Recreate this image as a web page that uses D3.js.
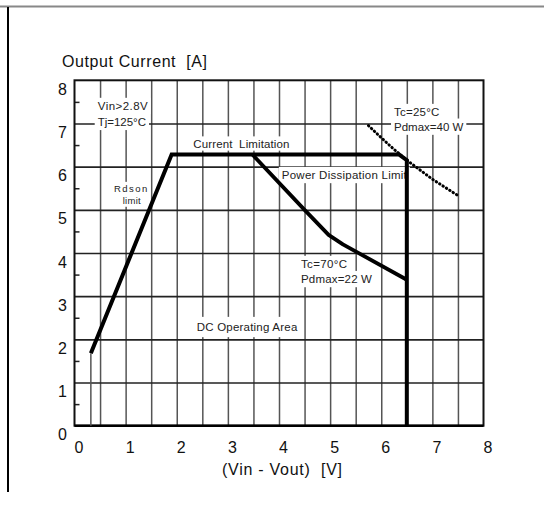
<!DOCTYPE html>
<html><head><meta charset="utf-8">
<script src="https://cdn.jsdelivr.net/npm/d3@7/dist/d3.min.js"></script>
<style>
body{margin:0;background:#fff;}
svg{display:block;font-family:"Liberation Sans",Arial,sans-serif;}
text{white-space:pre;}
</style></head><body>
<svg id="c" width="544" height="508"></svg>
<script>
// ---- data ----
const xTicks = [0,1,2,3,4,5,6,7,8];
const yTicks = [0,1,2,3,4,5,6,7,8];
const xGrid = [0.5,1,1.5,2,2.5,3,3.5,4,4.5,5,5.5,6,6.5,7,7.5];
const yGrid = [1,2,3,4,5,6,7];
const yMinor = [0.5,1.5,2.5,3.5,4.5,5.5,6.5,7.5];
// DC operating area boundary (Rdson limit, current limitation, Vin-Vout max)
const boundaryV = [0.32,1.9,6.35,6.5,6.5];
const boundaryI = [1.68,6.28,6.28,6.15,0];
// Tc=70°C, Pdmax=22 W power dissipation limit
const pd22V = [3.48,4.5,4.97,5.25,6.5];
const pd22I = [6.28,5.0,4.42,4.2,3.38];
// Tc=25°C, Pdmax=40 W (dotted)
const pd40V = [5.75,6.0,6.25,6.5,6.75,7.0,7.25,7.5];
const pd40I = [6.95,6.67,6.4,6.15,5.93,5.71,5.52,5.33];
// thin foot line under Rdson start
const footV = [0.32,0.32];
const footI = [1.68,0];
// annotations: text, anchor (V, A)
const annText = ["Vin>2.8V","Tj=125°C","Rdson","limit","Current  Limitation","Power Dissipation Limit","Tc=25°C","Pdmax=40 W","Tc=70°C","Pdmax=22 W","DC Operating Area"];
const annV = [0.454,0.454,0.773,0.943,2.325,4.055,6.25,6.25,4.43,4.43,2.39];
const annI = [7.31,6.94,5.42,5.14,6.44,5.71,7.17,6.83,3.65,3.30,2.19];
const annW = [50,48.3,33.3,18,96,125,45.3,69.3,46,71,100.6];
const annFs = [11.5,11.5,9.5,9.5,11.5,11.5,11.5,11.5,11.5,11.5,11.5];
const annPadY = [4,4,3,3,3,4,4,4,4,4,6];

const svg = d3.select("#c");
const L=74.5,R=483.5,T=80.3,B=425.7;
const x = d3.scaleLinear().domain([0,8]).range([L,R]);
const y = d3.scaleLinear().domain([0,8]).range([B,T]);

// page border
svg.append("line").attr("x1",0).attr("x2",544).attr("y1",6.5).attr("y2",6.5).attr("stroke","#888").attr("stroke-width",2);
svg.append("line").attr("x1",8).attr("x2",8).attr("y1",7).attr("y2",492).attr("stroke","#000").attr("stroke-width",2);

// vertical gridlines
const gx = svg.append("g").attr("transform",`translate(0,${B})`)
  .call(d3.axisBottom(x).tickValues(xGrid).tickSize(-(B-T)).tickFormat(""));
gx.select(".domain").remove();
gx.selectAll("line").attr("stroke","#555").attr("stroke-width",1.5);

// horizontal gridlines
const gy = svg.append("g").attr("transform",`translate(${L},0)`)
  .call(d3.axisRight(y).tickValues(yGrid).tickSize(R-L).tickFormat(""));
gy.select(".domain").remove();
gy.selectAll("line").attr("stroke","#222").attr("stroke-width",1.6);

// minor y ticks
const gm = svg.append("g").attr("transform",`translate(${L},0)`)
  .call(d3.axisRight(y).tickValues(yMinor).tickSize(5).tickFormat(""));
gm.select(".domain").remove();
gm.selectAll("line").attr("stroke","#222").attr("stroke-width",1.5);

// frame
svg.append("rect").attr("x",L).attr("y",T).attr("width",R-L).attr("height",B-T)
  .attr("fill","none").attr("stroke","#111").attr("stroke-width",2);
svg.append("line").attr("x1",L).attr("x2",R).attr("y1",B).attr("y2",B).attr("stroke","#000").attr("stroke-width",2.6);

// tick labels
const ax = svg.append("g").attr("transform",`translate(4,${B})`)
  .call(d3.axisBottom(x).tickValues(xTicks).tickSize(0).tickPadding(0).tickFormat(d3.format("d")));
ax.select(".domain").remove();
ax.selectAll("text").attr("dy",null).attr("y",27).attr("font-size",16).attr("fill","#111")
  .attr("font-family","Liberation Sans, Arial, sans-serif");
const ay = svg.append("g").attr("transform",`translate(67,14)`)
  .call(d3.axisLeft(y).tickValues(yTicks).tickSize(0).tickPadding(0).tickFormat(d3.format("d")));
ay.select(".domain").remove();
ay.selectAll("text").attr("dy",null).attr("font-size",16).attr("fill","#111")
  .attr("font-family","Liberation Sans, Arial, sans-serif");

// axis titles
svg.append("text").attr("x",62).attr("y",66.7).attr("font-size",16).attr("fill","#111")
  .attr("textLength",145).attr("lengthAdjust","spacing").text("Output Current  [A]");
svg.append("text").attr("x",222).attr("y",475).attr("font-size",16).attr("fill","#111")
  .attr("textLength",120).attr("lengthAdjust","spacing").text("(Vin - Vout)  [V]");

// annotations with white boxes
const ann = svg.append("g");
annText.forEach((t,i)=>{
  const fs = annFs[i];
  const tx = x(annV[i]), ty = y(annI[i]);
  const capH = fs*0.72;
  ann.append("rect").attr("x",tx-3).attr("y",ty-capH-annPadY[i]).attr("width",annW[i]+6)
    .attr("height",capH+2*annPadY[i]).attr("fill","#fff");
});
annText.forEach((t,i)=>{
  ann.append("text").attr("x",x(annV[i])).attr("y",y(annI[i])).attr("font-size",annFs[i])
    .attr("fill","#222").attr("textLength",annW[i]).attr("lengthAdjust","spacing").text(t);
});

// data lines
const line = d3.line().x(d=>x(d[0])).y(d=>y(d[1]));
const zip = (a,b)=>a.map((v,i)=>[v,b[i]]);
svg.append("path").datum(zip(footV,footI)).attr("d",line).attr("fill","none").attr("stroke","#555").attr("stroke-width",1.5);
svg.append("path").datum(zip(pd40V,pd40I)).attr("d",line).attr("fill","none").attr("stroke","#000")
  .attr("stroke-width",3).attr("stroke-dasharray","0.5 3.5").attr("stroke-linecap","round");
svg.append("path").datum(zip(pd22V,pd22I)).attr("d",line).attr("fill","none").attr("stroke","#000")
  .attr("stroke-width",3.8).attr("stroke-linejoin","round");
svg.append("path").datum(zip(boundaryV,boundaryI)).attr("d",line).attr("fill","none").attr("stroke","#000")
  .attr("stroke-width",4).attr("stroke-linejoin","miter");
</script></body></html>
